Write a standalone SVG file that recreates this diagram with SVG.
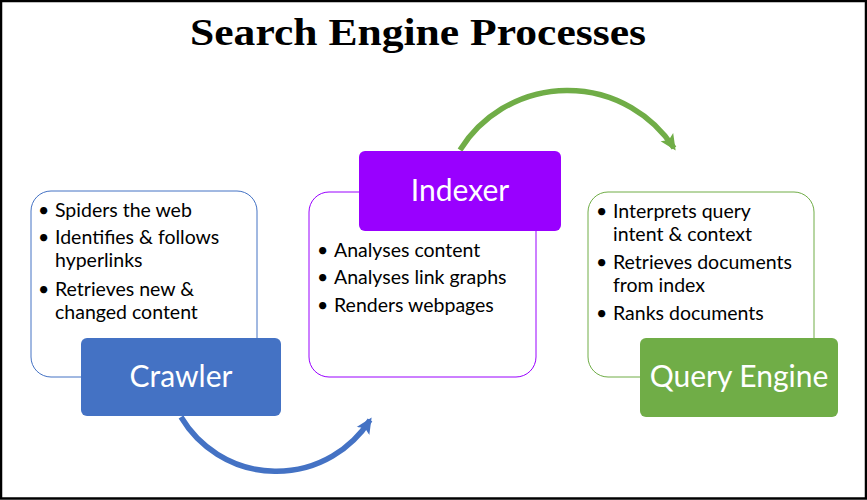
<svg xmlns="http://www.w3.org/2000/svg" width="867" height="500" viewBox="0 0 867 500">
<defs>
<marker id="ahBlue" markerUnits="userSpaceOnUse" markerWidth="18" markerHeight="18" viewBox="0 0 18 18" refX="13" refY="9" orient="auto"><path d="M0,1.5 L16,9 L0,16.5 L3.5,9 Z" fill="#4472C4"/></marker>
<marker id="ahGreen" markerUnits="userSpaceOnUse" markerWidth="18" markerHeight="18" viewBox="0 0 18 18" refX="13" refY="9" orient="auto"><path d="M0,1.5 L16,9 L0,16.5 L3.5,9 Z" fill="#70AD47"/></marker>
</defs>
<style>
.list{font-family:Lato,"Liberation Sans",sans-serif;font-size:19.5px;fill:#000}
.lbl{font-family:Lato,"Liberation Sans",sans-serif;font-size:30px;fill:#fff;text-anchor:middle}
.box{fill:#fff;stroke-width:1}
</style>
<rect x="0" y="0" width="867" height="500" fill="#fff"/>
<rect x="1" y="1" width="865" height="497.5" fill="none" stroke="#000" stroke-width="2.5"/>
<text x="418" y="45" font-family="'Liberation Serif',serif" font-weight="bold" font-size="38" text-anchor="middle" textLength="456" lengthAdjust="spacingAndGlyphs">Search Engine Processes</text>
<g id="connectors">
<path d="M181,417 A111,111 0 0 0 370,420" fill="none" stroke="#4472C4" stroke-width="5.5" marker-end="url(#ahBlue)"/>
<path d="M460,150 A127,127 0 0 1 674,148" fill="none" stroke="#70AD47" stroke-width="5.5" marker-end="url(#ahGreen)"/>
</g>
<g id="crawler">
<rect class="box" x="31" y="191" width="226" height="186" rx="20" stroke="#4472C4"/>
<g class="list">
<text x="38" y="217">•</text><text x="55" y="217">Spiders the web</text>
<text x="38" y="244">•</text><text x="55" y="244">Identifies &amp; follows</text>
<text x="55" y="267">hyperlinks</text>
<text x="38" y="296">•</text><text x="55" y="296">Retrieves new &amp;</text>
<text x="55" y="319">changed content</text>
</g>
<rect x="81" y="338" width="200" height="78" rx="6" fill="#4472C4"/>
<text class="lbl" x="181" y="387">Crawler</text>
</g>
<g id="indexer">
<rect class="box" x="309" y="192" width="227" height="185" rx="20" stroke="#9900FF"/>
<g class="list">
<text x="317" y="257">•</text><text x="334" y="257">Analyses content</text>
<text x="317" y="284">•</text><text x="334" y="284">Analyses link graphs</text>
<text x="317" y="312">•</text><text x="334" y="312">Renders webpages</text>
</g>
<rect x="359" y="151" width="202" height="80" rx="6" fill="#9900FF"/>
<text class="lbl" x="460" y="201">Indexer</text>
</g>
<g id="queryengine">
<rect class="box" x="588" y="192" width="226" height="185" rx="20" stroke="#70AD47"/>
<g class="list">
<text x="596" y="218">•</text><text x="613" y="218">Interprets query</text>
<text x="613" y="241">intent &amp; context</text>
<text x="596" y="269">•</text><text x="613" y="269">Retrieves documents</text>
<text x="613" y="292">from index</text>
<text x="596" y="320">•</text><text x="613" y="320">Ranks documents</text>
</g>
<rect x="640" y="338" width="198" height="79" rx="6" fill="#70AD47"/>
<text class="lbl" x="739" y="387">Query Engine</text>
</g>
</svg>
